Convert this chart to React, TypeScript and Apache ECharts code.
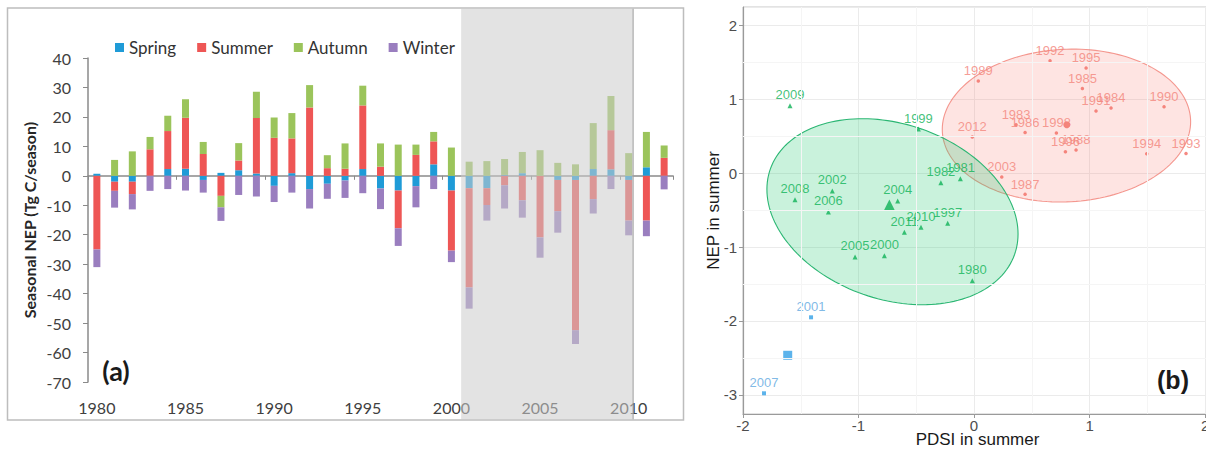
import React, { useEffect, useRef } from "react";
import * as echarts from "echarts";

// ---------- Panel (a): seasonal NEP, Tg C/season ----------
const years = [
  "1980", "1981", "1982", "1983", "1984", "1985", "1986", "1987", "1988", "1989",
  "1990", "1991", "1992", "1993", "1994", "1995", "1996", "1997", "1998", "1999",
  "2000", "2001", "2002", "2003", "2004", "2005", "2006", "2007", "2008", "2009",
  "2010", "2011", "2012",
];
const spring = [
  0.7, -2.0, -2.0, 0, 2.3, 2.4, -1.4, 1.0, 1.9, 0.8,
  -3.4, 0.9, -4.5, -2.7, -1.6, 2.3, -4.3, -5.0, -3.5, 3.9,
  -5.0, -4.2, -4.2, 0.3, 0.9, 0, -1.4, -1.4, 2.3, 2.2,
  -1.4, 2.9, 0,
];
const summer = [
  -25.0, -3.1, -4.2, 9.0, 12.9, 17.3, 7.4, -6.8, 3.3, 18.8,
  12.9, 11.8, 23.2, 2.6, 2.4, 21.6, 3.1, -12.8, 7.1, 7.8,
  -20.4, -33.7, -5.7, -3.2, -8.3, -20.9, -10.6, -51.0, -7.9, 13.3,
  -13.8, -15.2, 6.1,
];
const autumn = [
  0, 5.4, 8.3, 4.2, 5.2, 6.3, 4.1, -3.9, 5.9, 8.9,
  6.9, 8.6, 7.6, 4.4, 8.6, 6.7, 7.9, 10.6, 3.5, 3.2,
  9.6, 4.8, 5.0, 5.4, 7.2, 8.7, 4.4, 3.9, 15.6, 11.6,
  7.7, 12.0, 4.2,
];
const winter = [
  -6.0, -5.7, -5.2, -5.1, -4.5, -5.0, -4.3, -4.6, -6.5, -7.0,
  -5.5, -5.7, -6.6, -5.1, -5.9, -5.9, -7.0, -6.0, -7.2, -4.5,
  -3.9, -7.2, -5.3, -7.9, -5.9, -6.9, -7.3, -4.7, -4.9, -4.5,
  -5.0, -5.3, -4.6,
];
const seasonNames = ["Spring", "Summer", "Autumn", "Winter"];
const seasonColors = ["#1f9bd7", "#ee5655", "#9bc45b", "#9a7ebf"];
const shadeStart = "2001";
const shadeEnd = "2010";

// ---------- Panel (b): PDSI vs NEP in summer ----------
const redYears = ["1992", "1995", "1989", "1985", "1984", "1991", "1990", "1983", "1986", "1998", "1996", "1988", "1994", "1993", "2012", "2003", "1987"];
const redPDSI = [0.658, 0.97, 0.037, 0.938, 1.186, 1.056, 1.645, 0.364, 0.442, 0.713, 0.791, 0.883, 1.495, 1.835, -0.015, 0.24, 0.442];
const redNEP = [1.522, 1.423, 1.247, 1.148, 0.882, 0.841, 0.9, 0.656, 0.552, 0.544, 0.291, 0.314, 0.264, 0.268, 0.49, -0.052, -0.286];

const greenYears = ["2009", "1999", "2008", "2002", "2006", "2004", "1982", "1981", "2011", "2010", "1997", "2000", "2005", "1980"];
const greenPDSI = [-1.593, -0.482, -1.55, -1.227, -1.261, -0.661, -0.287, -0.118, -0.603, -0.459, -0.228, -0.776, -1.03, -0.015];
const greenNEP = [0.913, 0.598, -0.359, -0.241, -0.525, -0.376, -0.131, -0.075, -0.8, -0.733, -0.679, -1.116, -1.134, -1.455];

const blueYears = ["2001", "2007"];
const bluePDSI = [-1.411, -1.818];
const blueNEP = [-1.951, -2.98];

// group centroids: red, green, blue
const centroidPDSI = [0.803, -0.733, -1.613];
const centroidNEP = [0.656, -0.43, -2.465];

// ellipses (center, half extents, correlation): red, green
const ellipseCX = [0.8, -0.706];
const ellipseCY = [0.645, -0.521];
const ellipseSX = [1.075, 1.087];
const ellipseSY = [1.035, 1.259];
const ellipseRho = [0.05, -0.24];

const minorX = [-1.5, -0.5, 0.5, 1.5];
const minorY = [-2.5, -1.5, -0.5, 0.5, 1.5];

const RED = "#f3847b";
const RED_PT = "#f26b63";
const GREEN = "#0fb257";
const BLUE = "#5ea7e0";
const BLUE_PT = "#33a0e6";

const ellipseFill = ["rgba(248,118,109,0.2)", "rgba(30,200,110,0.24)"];
const ellipseStroke = ["rgba(240,120,110,0.75)", "#2bb673"];

function labelled(ys: string[], xs: number[], vs: number[]) {
  return ys.map((y, i) => ({ name: y, value: [xs[i], vs[i]] }));
}

export default function App() {
  const ref = useRef<HTMLDivElement>(null);

  useEffect(() => {
    if (!ref.current) return;
    const chart = echarts.init(ref.current, undefined, { renderer: "svg" });

    const tickFontA = { fontFamily: "Lato", fontSize: 16, color: "#404040" };
    const tickFontB = { fontFamily: "Liberation Sans", fontSize: 15, color: "#4d4d4d" };
    const pointLabel = (color: string) => ({
      show: true,
      position: "top",
      distance: 2,
      formatter: "{b}",
      color,
      fontFamily: "Liberation Sans",
      fontSize: 13,
    });

    const seasonData = [spring, summer, autumn, winter];

    const option: any = {
      animation: false,
      backgroundColor: "#ffffff",
      legend: {
        data: seasonNames,
        left: 115,
        top: 39,
        padding: 0,
        icon: "rect",
        itemWidth: 9,
        itemHeight: 9,
        itemGap: 21,
        textStyle: { fontFamily: "Lato", fontSize: 17, color: "#333333" },
      },
      grid: [
        { left: 88, top: 58, width: 585, height: 324, containLabel: false, outerBoundsMode: "none" },
        {
          left: 743, top: 7, width: 469, height: 407, show: true, borderColor: "#c6c6c6", borderWidth: 1,
          containLabel: false, outerBoundsMode: "none",
        },
      ],
      xAxis: [
        {
          gridIndex: 0,
          type: "category",
          data: years,
          position: "bottom",
          axisLine: { show: false, onZero: false },
          axisTick: { show: false },
          axisLabel: { interval: 4, margin: 17, ...tickFontA },
          splitLine: { show: false },
        },
        {
          gridIndex: 0,
          type: "category",
          data: years,
          position: "bottom",
          axisLine: { show: true, onZero: true, lineStyle: { color: "#8a8a8a", width: 1.5 } },
          axisTick: { show: true, interval: 4, length: 4, lineStyle: { color: "#8a8a8a" } },
          axisLabel: { show: false },
          splitLine: { show: false },
        },
        {
          gridIndex: 1,
          type: "value",
          min: -2,
          max: 2.06,
          interval: 1,
          name: "PDSI in summer",
          nameLocation: "middle",
          nameGap: 17,
          nameMoveOverlap: false,
          nameTextStyle: { fontFamily: "Liberation Sans", fontSize: 17, color: "#1a1a1a" },
          axisLine: { show: true, onZero: false, lineStyle: { color: "#9a9a9a", width: 1.2 } },
          axisTick: { show: true, length: 4, lineStyle: { color: "#9a9a9a" } },
          axisLabel: { margin: 4, showMaxLabel: false, hideOverlap: false, ...tickFontB },
          splitLine: { show: true, lineStyle: { color: "#ebebeb", width: 1 } },
        },
      ],
      yAxis: [
        {
          gridIndex: 0,
          type: "value",
          min: -70,
          max: 40,
          interval: 10,
          name: "Seasonal NEP (Tg C/season)",
          nameLocation: "middle",
          nameGap: 51,
          nameMoveOverlap: false,
          nameTextStyle: { fontFamily: "Lato", fontWeight: "bold", fontSize: 16, color: "#262626" },
          axisLine: { show: true, lineStyle: { color: "#8a8a8a", width: 1.5 } },
          axisTick: { show: true, length: 5, lineStyle: { color: "#8a8a8a" } },
          axisLabel: { margin: 17, ...tickFontA },
          splitLine: { show: false },
        },
        {
          gridIndex: 1,
          type: "value",
          min: -3.26,
          max: 2.25,
          name: "NEP in summer",
          nameLocation: "middle",
          nameGap: 21,
          nameMoveOverlap: false,
          nameTextStyle: { fontFamily: "Liberation Sans", fontSize: 17, color: "#1a1a1a" },
          axisLine: { show: true, onZero: false, lineStyle: { color: "#9a9a9a", width: 1.2 } },
          axisTick: { show: true, length: 4, lineStyle: { color: "#9a9a9a" } },
          axisLabel: { margin: 6, showMinLabel: false, showMaxLabel: false, ...tickFontB },
          splitLine: { show: true, lineStyle: { color: "#ebebeb", width: 1 } },
        },
      ],
      series: [
        ...seasonNames.map((name, i) => ({
          name,
          type: "bar",
          stack: "nep",
          xAxisIndex: 0,
          yAxisIndex: 0,
          barWidth: 7,
          itemStyle: { color: seasonColors[i] },
          data: seasonData[i],
        })),
        {
          type: "line",
          xAxisIndex: 2,
          yAxisIndex: 1,
          data: [],
          silent: true,
          z: 0,
          markLine: {
            silent: true,
            symbol: "none",
            label: { show: false },
            lineStyle: { color: "#f5f5f5", width: 1, type: "solid" },
            data: [...minorX.map((v) => ({ xAxis: v })), ...minorY.map((v) => ({ yAxis: v }))],
          },
        },
        {
          type: "custom",
          xAxisIndex: 2,
          yAxisIndex: 1,
          silent: true,
          z: 1,
          clip: true,
          encode: { x: 0, y: 1 },
          data: ellipseCX.map((cx, i) => [cx, ellipseCY[i], ellipseSX[i], ellipseSY[i], ellipseRho[i]]),
          renderItem: (params: any, api: any) => {
            const cx = api.value(0);
            const cy = api.value(1);
            const sx = api.value(2);
            const sy = api.value(3);
            const r = api.value(4);
            const k = Math.sqrt(1 - r * r);
            const pts: number[][] = [];
            const n = 160;
            for (let j = 0; j < n; j++) {
              const t = (j / n) * Math.PI * 2;
              pts.push(api.coord([cx + sx * Math.cos(t), cy + sy * (r * Math.cos(t) + k * Math.sin(t))]));
            }
            return {
              type: "polygon",
              shape: { points: pts },
              style: { fill: ellipseFill[params.dataIndex], stroke: ellipseStroke[params.dataIndex], lineWidth: 1.1 },
            };
          },
        },
        {
          type: "scatter",
          xAxisIndex: 2,
          yAxisIndex: 1,
          z: 3,
          symbol: "circle",
          symbolSize: 3.5,
          itemStyle: { color: RED_PT },
          label: pointLabel(RED),
          data: labelled(redYears, redPDSI, redNEP),
        },
        {
          type: "scatter",
          xAxisIndex: 2,
          yAxisIndex: 1,
          z: 3,
          symbol: "triangle",
          symbolSize: 5,
          itemStyle: { color: GREEN },
          label: pointLabel(GREEN),
          data: labelled(greenYears, greenPDSI, greenNEP),
        },
        {
          type: "scatter",
          xAxisIndex: 2,
          yAxisIndex: 1,
          z: 3,
          symbol: "rect",
          symbolSize: 4,
          itemStyle: { color: BLUE_PT },
          label: pointLabel(BLUE),
          data: labelled(blueYears, bluePDSI, blueNEP),
        },
        {
          type: "scatter",
          xAxisIndex: 2,
          yAxisIndex: 1,
          z: 3,
          data: [
            { value: [centroidPDSI[0], centroidNEP[0]], symbol: "circle", symbolSize: 7, itemStyle: { color: RED_PT } },
            { value: [centroidPDSI[1], centroidNEP[1]], symbol: "triangle", symbolSize: 11, itemStyle: { color: GREEN } },
            { value: [centroidPDSI[2], centroidNEP[2]], symbol: "rect", symbolSize: 9, itemStyle: { color: BLUE_PT } },
          ],
        },
      ],
    };

    chart.setOption(option);

    const px = (v: string) => chart.convertToPixel({ xAxisIndex: 0 } as any, v) as number;
    const band = px(years[1]) - px(years[0]);
    const shadeLeft = px(shadeStart) - 0.45 * band;
    const shadeRight = px(shadeEnd) + 0.25 * band;

    chart.setOption({
      graphic: [
        {
          type: "rect",
          id: "frameA",
          silent: true,
          z: 1,
          shape: { x: 7.5, y: 8, width: 676, height: 412 },
          style: { fill: "none", stroke: "#bdbdbd", lineWidth: 1.5 },
        },
        {
          type: "rect",
          id: "shade",
          silent: true,
          z: 100,
          shape: { x: shadeLeft, y: 8.75, width: shadeRight - shadeLeft, height: 410.5 },
          style: { fill: "rgba(204,204,204,0.55)" },
        },
        {
          type: "line",
          id: "shadeEdge",
          silent: true,
          z: 101,
          shape: { x1: shadeRight, y1: 8.75, x2: shadeRight, y2: 419.25 },
          style: { stroke: "#9e9e9e", lineWidth: 1 },
        },
        {
          type: "text",
          id: "labelA",
          silent: true,
          z: 50,
          x: 116,
          y: 370,
          style: { text: "(a)", fontFamily: "Lato", fontWeight: "bold", fontSize: 27, fill: "#1a1a1a", align: "center", verticalAlign: "middle" },
        },
        {
          type: "text",
          id: "labelB",
          silent: true,
          z: 50,
          x: 1173,
          y: 380,
          style: { text: "(b)", fontFamily: "Liberation Sans", fontWeight: "bold", fontSize: 25, fill: "#1a1a1a", align: "center", verticalAlign: "middle" },
        },
      ],
    });

    return () => chart.dispose();
  }, []);

  return (
    <div
      ref={ref}
      style={{ position: "fixed", left: 0, top: 0, width: 1206, height: 450, background: "#fff" }}
    />
  );
}
